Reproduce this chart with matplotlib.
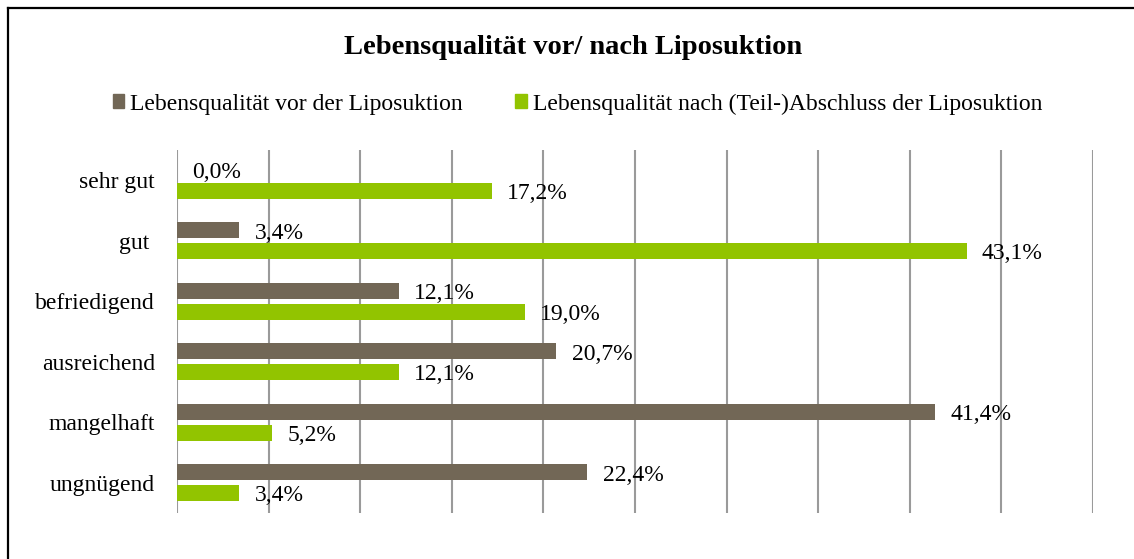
import matplotlib
matplotlib.use("Agg")
import matplotlib.pyplot as plt
from matplotlib.lines import Line2D
from matplotlib.patches import Patch
import numpy as np

# data
categories = ["sehr gut", "gut ", "befriedigend", "ausreichend", "mangelhaft", "ungnügend"]
vor = [0.0, 3.4, 12.1, 20.7, 41.4, 22.4]
nach = [17.2, 43.1, 19.0, 12.1, 5.2, 3.4]
series_names = ["Lebensqualität vor der Liposuktion",
                "Lebensqualität nach (Teil-)Abschluss der Liposuktion"]
title = "Lebensqualität vor/ nach Liposuktion"

col_vor = "#726756"
col_nach = "#92c400"
fs = 17

plt.rcParams["font.family"] = ["Liberation Serif", "DejaVu Serif"]

fig = plt.figure(figsize=(11.34, 5.59), dpi=100)
ax = fig.add_axes([177 / 1134, 46 / 559, 916 / 1134, 363 / 559])

y = np.arange(len(categories))
h = 0.265
off = 0.17
ax.barh(y - off, vor, height=h, color=col_vor, zorder=3)
ax.barh(y + off, nach, height=h, color=col_nach, zorder=3)

def fmt(v):
    return f"{v:.1f}%".replace(".", ",")

for yi, v in zip(y, vor):
    ax.annotate(fmt(v), (v, yi - off), xytext=(11, -2), textcoords="offset points",
                ha="left", va="center", fontsize=fs, zorder=4)
for yi, v in zip(y, nach):
    ax.annotate(fmt(v), (v, yi + off), xytext=(11, -2), textcoords="offset points",
                ha="left", va="center", fontsize=fs, zorder=4)

ax.set_xlim(0, 50)
ax.set_ylim(len(categories) - 0.5, -0.5)
ax.set_xticks(np.arange(0, 51, 5))
ax.set_xticklabels([])
ax.set_yticks(y)
ax.set_yticklabels(categories, fontsize=fs)
ax.tick_params(axis="both", length=0)
ax.tick_params(axis="y", pad=16)
ax.grid(axis="x", color="#9a9a9a", linewidth=1.5, zorder=0)
for s in ax.spines.values():
    s.set_visible(False)

fig.text(0.505, 1 - 48 / 559, title, ha="center", va="center",
         fontsize=20.5, fontweight="bold")

handles = [Patch(color=col_vor), Patch(color=col_nach)]
fig.legend(handles, series_names, loc="center", bbox_to_anchor=(0.509, 1 - 104 / 559),
           ncol=2, frameon=False, fontsize=fs, handlelength=0.5, handleheight=0.5,
           handletextpad=0.25, columnspacing=2.2)

# frame lines (left and top only visible in the reference)
fig.add_artist(Line2D([8 / 1134, 8 / 1134], [0, 1 - 8 / 559], color="black",
                      linewidth=1.6, transform=fig.transFigure))
fig.add_artist(Line2D([8 / 1134, 1], [1 - 8 / 559, 1 - 8 / 559], color="black",
                      linewidth=1.6, transform=fig.transFigure))

fig.savefig("out.png", dpi=100)
